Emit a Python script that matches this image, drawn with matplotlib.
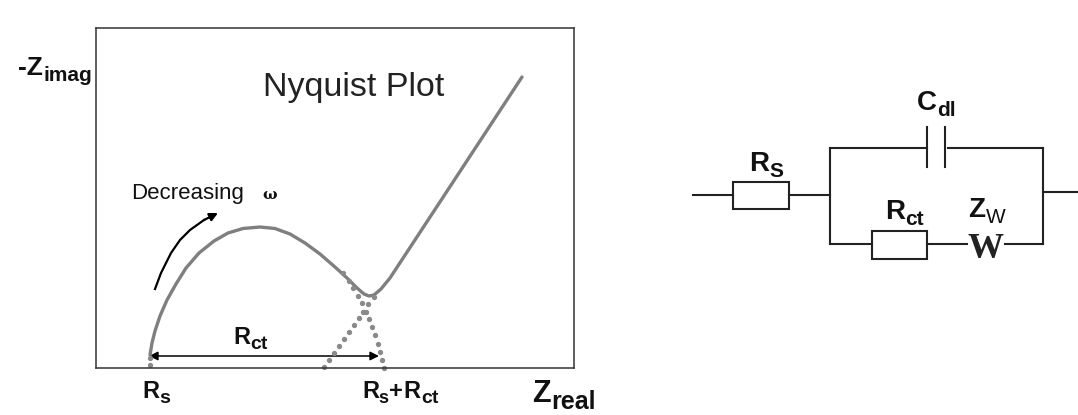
import matplotlib
matplotlib.use('Agg')
import matplotlib.pyplot as plt
from matplotlib.patches import Rectangle, FancyArrowPatch

plt.rcParams['font.family'] = ['Liberation Sans', 'DejaVu Sans']

W, H = 1078, 415
BOX = (96, 28, 574, 368)  # left, top, right, bottom in pixels

# Nyquist curve (x from axis left, y above axis bottom)
curve_x = [54, 56, 59, 64, 71, 80, 90, 103, 118, 132, 147, 164, 179, 194, 209, 224, 239, 251, 261, 268, 273, 278, 285, 294, 426]
curve_y = [13, 25, 37, 52, 68, 84, 100, 115, 127, 135, 139.5, 141, 139.5, 134, 125, 114, 101, 90, 80, 74, 72, 73, 79, 90, 291]
dot_left_x = [228, 233, 238, 243, 248, 253, 258, 263, 267, 272, 278]
dot_left_y = [1, 8, 15, 22, 29, 36, 43, 50, 56, 64, 71]
dot_right_x = [247, 253, 257, 262, 266, 270, 273, 276, 279, 282, 284, 286, 288]
dot_right_y = [95, 87, 80, 72, 65, 56, 49, 41, 33, 24, 16, 8, 0]
dot_start_x = [54, 54]
dot_start_y = [10, 3]

# R_ct span and the decreasing-frequency arrow
rct_span_x = [53, 283]
rct_span_y = [12, 12]
freq_x = [59, 65, 75, 84, 94, 108, 122]
freq_y = [79, 95, 115, 128, 138, 148, 155]

# Labels outside the axes: text, subscript, x, baseline y, sizes
plot_labels = [
    ('-Z', 'imag', 18, 75, 19, 15),
    ('R', 'ct', 233, 344, 17, 14),
    ('R', 's', 142, 398, 17, 14),
    ('Z', 'real', 532, 402, 22, 18),
]

# Equivalent circuit wires in pixels, as (x0, x1, y0, y1)
wires = [
    (693, 733, 195, 195), (789, 830, 195, 195), (830, 830, 148, 244),
    (830, 927, 148, 148), (948, 1043, 148, 148), (1043, 1043, 148, 244),
    (1043, 1078, 192, 192), (830, 872, 244, 244), (927, 967, 244, 244),
    (1005, 1043, 244, 244), (927, 927, 127, 167), (945, 945, 127, 167),
]
resistors = [(733, 182, 56, 27), (872, 231, 55, 28)]
circuit_labels = [
    ('C', 'dl', 917, 110, 20, 15),
    ('R', 'S', 749, 171, 20, 15),
    ('R', 'ct', 885, 219, 20, 15),
    ('Z', 'W', 968, 217, 20, 15),
]

fig = plt.figure(figsize=(W / 100, H / 100), dpi=100)
left, top, right, bottom = BOX
ax = fig.add_axes([left / W, 1 - bottom / H, (right - left) / W, (bottom - top) / H])
ax.set_xlim(0, right - left)
ax.set_ylim(0, bottom - top)
ax.set_xticks([])
ax.set_yticks([])
for s in ax.spines.values():
    s.set_linewidth(1.1)
    s.set_color('#333333')

ax.plot(curve_x, curve_y, color='#7f7f7f', lw=2.4, solid_capstyle='round', solid_joinstyle='round')
for dx, dy in [(dot_left_x, dot_left_y), (dot_right_x, dot_right_y), (dot_start_x, dot_start_y)]:
    ax.plot(dx, dy, ls='none', marker='o', ms=2.8, color='#8a8a8a', clip_on=False)

ax.add_patch(FancyArrowPatch((rct_span_x[0], rct_span_y[0]), (rct_span_x[1], rct_span_y[1]),
                             arrowstyle='<|-|>', mutation_scale=13, color='black', lw=1.1,
                             shrinkA=0, shrinkB=0))
ax.plot(freq_x[:-1], freq_y[:-1], color='black', lw=1.6)
ax.add_patch(FancyArrowPatch((freq_x[-2], freq_y[-2]), (freq_x[-1], freq_y[-1]),
                             arrowstyle='-|>', mutation_scale=12, color='black', lw=1.6,
                             shrinkA=0, shrinkB=0))
ax.text(258, 272, 'Nyquist Plot', fontsize=24.5, color='#222222', ha='center', va='baseline')

# overlay in pixel coordinates for the circuit and the loose labels
ov = fig.add_axes([0, 0, 1, 1], facecolor='none')
ov.set_xlim(0, W)
ov.set_ylim(H, 0)
ov.axis('off')


def label(main, sub, x, y, size, subsize):
    t = ov.text(x, y, main, fontsize=size, fontweight='bold', color='#111111', va='baseline')
    bb = t.get_window_extent(fig.canvas.get_renderer())
    ov.text(x + bb.width + 0.5, y + size * 0.3, sub, fontsize=subsize,
            fontweight='bold' if sub != 'W' else 'normal', color='#111111', va='baseline')


for item in plot_labels + circuit_labels:
    label(*item)

ov.text(362, 398, 'R', fontsize=17, fontweight='bold', color='#111111')
ov.text(378, 403, 's', fontsize=13, fontweight='bold', color='#111111')
ov.text(389, 398, '+', fontsize=17, fontweight='bold', color='#111111')
ov.text(403, 398, 'R', fontsize=17, fontweight='bold', color='#111111')
ov.text(421, 403, 'ct', fontsize=14, fontweight='bold', color='#111111')
ov.text(131, 199, 'Decreasing', fontsize=16, fontweight='normal', color='#111111')
ov.text(262, 199, 'ω', fontsize=11, fontweight='bold', color='#111111',
        family=['DejaVu Serif'])

for x0, x1, y0, y1 in wires:
    ov.plot([x0, x1], [y0, y1], color='#222222', lw=1.5, solid_capstyle='projecting')
for x, y, w, h in resistors:
    ov.add_patch(Rectangle((x, y), w, h, fill=False, ec='#222222', lw=1.5))
ov.text(986, 258, 'W', fontsize=26, fontweight='bold', family=['Liberation Serif'],
        ha='center', va='baseline', color='#222222')

fig.savefig('out.png', dpi=100)
